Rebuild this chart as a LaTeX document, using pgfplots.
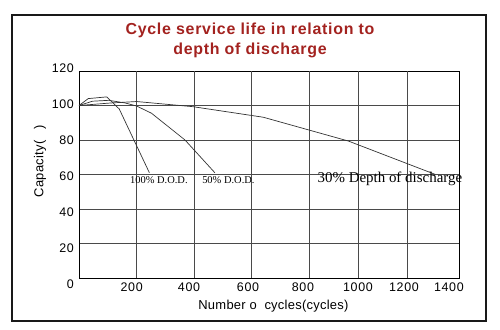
\documentclass[border=0pt]{standalone}
\usepackage{pgfplots}
\pgfplotsset{compat=1.18}
\usepackage{fontspec}
\setmainfont{Liberation Sans}
\newfontfamily\serifann{Liberation Serif}
\newfontfamily\spaced[LetterSpace=5]{Liberation Sans}
\newfontfamily\lblfont[LetterSpace=2]{Liberation Sans}
\newfontfamily\titlefont[LetterSpace=4.5]{Liberation Sans}
\definecolor{titlered}{HTML}{A3221F}
\definecolor{curve}{HTML}{333333}
\definecolor{gridc}{HTML}{4A4A4A}
\begin{document}
\begin{tikzpicture}[x=1bp,y=1bp]
\path[use as bounding box] (0,0) rectangle (500,329);
\draw[line width=2.6bp,color=black!90] (12,8) rectangle (486,314);
\node[align=center,font=\titlefont\fontsize{16}{19.5}\selectfont\bfseries,text=titlered,inner sep=0] at (250,288.5) {Cycle service life in relation to\\depth of discharge};
\begin{axis}[
  at={(79bp,51bp)}, anchor=south west,
  scale only axis, width=380.5bp, height=207bp,
  xmin=0, xmax=1400, ymin=0, ymax=120,
  axis line style={line width=0.9pt, black},
  tick style={draw=none}, major tick length=0pt,
  /pgf/number format/assume math mode=true,
  xtick={193.9,404.7,621.8,824,1026.5,1195.7,1361},
  xticklabels={200,400,600,800,1000,1200,1400},
  ytick={0,20,40,60,80,100,120},
  yticklabels={0,20,40,60,80,100,120},
  extra x ticks={209.7,425,634.7,848,1026.5,1208.6},
  extra x tick labels={},
  extra x tick style={grid=major},
  ymajorgrids,
  grid style={line width=0.8pt, color=gridc},
  ticklabel style={font=\spaced\fontsize{12.5}{14}\selectfont, inner sep=0pt},
  xticklabel style={anchor=north, yshift=-5bp},
  yticklabel style={anchor=east, xshift=-5bp, yshift={(\ticknum-4)*1.6}},
  xlabel={Number o\ \ cycles(cycles)},
  ylabel={Capacity(\hspace{0.9em})},
  label style={font=\lblfont\fontsize{13}{15}\selectfont, inner sep=0pt},
  xlabel style={at={(axis description cs:0.511,-0.138)}, anchor=center},
  ylabel style={at={(axis description cs:-0.1025,0.565)}, anchor=center, rotate=0},
  clip=false,
]
\addplot[curve, line width=0.7pt, mark=none] coordinates {
  (0,100) (34,104) (102,105) (148,98) (259,61)};
\addplot[curve, line width=0.7pt, mark=none] coordinates {
  (0,100) (50,102.5) (110,103) (169,101.5) (212,99.7) (267,95.5) (390,80) (500,61)};
\addplot[curve, line width=0.7pt, mark=none] coordinates {
  (0,100) (120,101.5) (212,102.3) (420,99.3) (678,93.2) (991,79.4) (1310,60.1)};
\node[font=\serifann\fontsize{10.5}{12}\selectfont, inner sep=0] at (axis cs:294,56.8) {100\% D.O.D.};
\node[font=\serifann\fontsize{10.5}{12}\selectfont, inner sep=0] at (axis cs:549.7,56.8) {50\% D.O.D.};
\node[font=\serifann\fontsize{15}{17}\selectfont, inner sep=0] at (axis cs:1144,57.3) {30\% Depth of discharge};
\end{axis}
\end{tikzpicture}
\end{document}
